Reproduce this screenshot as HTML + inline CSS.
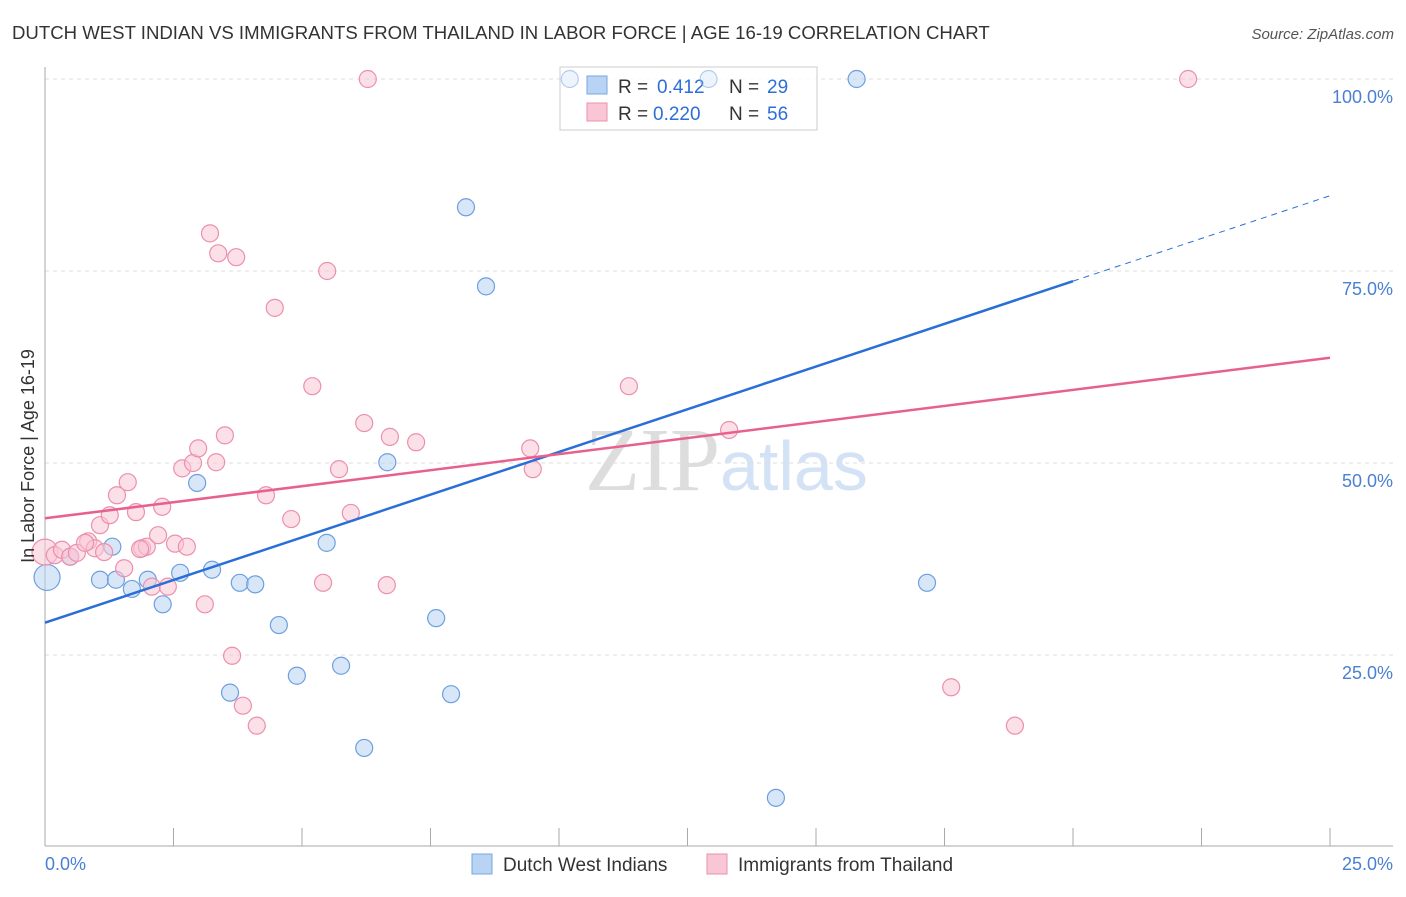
<!DOCTYPE html>
<html><head><meta charset="utf-8"><style>
body{margin:0;background:#fff;font-family:"Liberation Sans",sans-serif;}
</style></head><body>
<svg width="1406" height="892" id="chart" font-family="Liberation Sans, sans-serif">
<text x="12" y="39" font-size="18.6" fill="#333">DUTCH WEST INDIAN VS IMMIGRANTS FROM THAILAND IN LABOR FORCE | AGE 16-19 CORRELATION CHART</text>
<text x="1394" y="39" font-size="15" fill="#555" font-style="italic" text-anchor="end">Source: ZipAtlas.com</text>
<text x="720" y="490" font-size="90" fill="#ddd" text-anchor="end" font-family="Liberation Serif, serif">ZIP</text>
<text x="720" y="490" font-size="70" fill="#d3e2f5">atlas</text>
<g id="grid"></g>
<g id="axes"></g>
<g id="marks"></g>
<text transform="translate(34,456) rotate(-90)" font-size="18" fill="#333" text-anchor="middle">In Labor Force | Age 16-19</text>
<g>
<rect x="560" y="67" width="257" height="63" fill="#fff" fill-opacity="0.85" stroke="#ccc"/>
<rect x="587" y="76" width="20" height="18" fill="#b8d3f3" stroke="#7aa7e0"/>
<text x="618" y="93" font-size="19" fill="#333">R =</text>
<text x="657" y="93" font-size="19" fill="#2d6fd6">0.412</text>
<text x="729" y="93" font-size="19" fill="#333">N =</text>
<text x="767" y="93" font-size="19" fill="#2d6fd6">29</text>
<rect x="587" y="103" width="20" height="18" fill="#f9c6d6" stroke="#ee8fae"/>
<text x="618" y="120" font-size="19" fill="#333">R =</text>
<text x="653" y="120" font-size="19" fill="#2d6fd6">0.220</text>
<text x="729" y="120" font-size="19" fill="#333">N =</text>
<text x="767" y="120" font-size="19" fill="#2d6fd6">56</text>
</g>
<g>
<rect x="472" y="854" width="20" height="20" fill="#b8d3f3" stroke="#7aa7e0"/>
<text x="503" y="871" font-size="19" fill="#333">Dutch West Indians</text>
<rect x="707" y="854" width="20" height="20" fill="#f9c6d6" stroke="#ee8fae"/>
<text x="738" y="871" font-size="19" fill="#333">Immigrants from Thailand</text>
</g>
<g id="topmarks"></g>
</svg>
<script>
const blueX=[0.04,0.49,1.07,1.31,1.38,1.69,2.0,2.29,2.63,2.96,3.25,3.79,4.09,4.55,4.9,3.6,5.76,5.48,6.21,6.66,7.61,7.9,8.19,8.58,10.21,12.91,15.79,14.22,17.16];
const blueY=[35.1,37.8,34.8,39.1,34.8,33.6,34.8,31.6,35.7,47.4,36.1,34.4,34.2,28.9,22.3,20.1,23.6,39.6,12.9,50.1,29.8,19.9,83.3,73.0,100,100,100,6.4,34.4];
const pinkX=[0.0,0.19,0.33,0.49,0.62,0.84,0.97,1.15,1.07,1.26,1.4,1.54,1.61,1.77,1.89,1.98,2.08,2.2,2.28,2.39,2.53,2.67,2.76,2.88,2.98,3.11,3.33,3.5,3.21,3.37,3.72,3.64,3.85,4.12,4.3,4.47,4.79,5.2,5.41,5.49,5.72,5.95,6.21,6.28,6.65,6.71,7.22,9.44,9.49,11.36,13.31,17.63,18.87,22.24,0.78,1.85];
const pinkY=[38.4,38.0,38.7,37.8,38.3,39.8,38.9,38.4,41.9,43.2,45.8,36.3,47.5,43.6,38.9,39.1,33.9,40.6,44.3,33.9,39.5,49.3,39.1,50.0,51.9,31.6,50.1,53.6,79.9,77.3,76.8,24.9,18.4,15.8,45.8,70.2,42.7,60.0,34.4,75.0,49.2,43.5,55.2,100,34.1,53.4,52.7,51.9,49.2,60.0,54.3,20.8,15.8,100,39.6,38.8];
const blueLine=[29.2,84.8], blueSolidEnd=20.0;
const pinkLine=[42.8,63.7];
const yTicks=[25,50,75,100], yTickLabels=["25.0%","50.0%","75.0%","100.0%"];
const NS="http://www.w3.org/2000/svg";
const sx=v=>45+v/25*1285, sy=v=>847-v/100*768;
function mk(tag,attrs,parent){const e=document.createElementNS(NS,tag);for(const k in attrs)e.setAttribute(k,attrs[k]);parent.appendChild(e);return e;}
const grid=document.getElementById('grid'),axes=document.getElementById('axes'),marks=document.getElementById('marks'),top2=document.getElementById('topmarks');
yTicks.forEach((t,i)=>{
 const g=mk('line',{x1:45,x2:1393,y1:sy(t),y2:sy(t),stroke:'#ddd','stroke-dasharray':'4,4'},grid);
 
 
 const l=mk('text',{x:1393,y:sy(t)+24,'font-size':18,fill:'#4a7fd4','text-anchor':'end'},axes);
 l.textContent=yTickLabels[i];
 
 
});
const ax=mk('line',{x1:45,x2:1393,y1:846,y2:846,stroke:'#aaa'},axes);


const ay=mk('line',{x1:45,x2:45,y1:67,y2:846,stroke:'#aaa'},axes);


for(let i=1;i<=10;i++){const t=mk('line',{x1:45+i*128.5,x2:45+i*128.5,y1:828,y2:846,stroke:'#aaa'},axes);
 
 }
const x0=mk('text',{x:45,y:870,'font-size':18,fill:'#4a7fd4'},axes);x0.textContent='0.0%';


const x1=mk('text',{x:1393,y:870,'font-size':18,fill:'#4a7fd4','text-anchor':'end'},axes);x1.textContent='25.0%';


function dots(X,Y,fill,stroke,name){X.forEach((x,i)=>{const r=(i===0)?13:8.5;
 const px=sx(x),py=sy(Y[i]);
 const inLegend=px>550&&px<827&&py<140;
 const c=mk('circle',{cx:px,cy:py,r:r,fill:fill,'fill-opacity':inLegend?0.25:0.55,stroke:stroke,'stroke-width':1.2,'stroke-opacity':inLegend?0.5:1},inLegend?top2:marks);
 
 });}
dots(blueX,blueY,'#b8d3f3','#6d9fe0','blue-point');
dots(pinkX,pinkY,'#f9c6d6','#ec8fae','pink-point');
const by=x=>blueLine[0]+(blueLine[1]-blueLine[0])*x/25;
const bl=mk('line',{x1:sx(0),y1:sy(by(0)),x2:sx(blueSolidEnd),y2:sy(by(blueSolidEnd)),stroke:'#2a6fd6','stroke-width':2.5},marks);


const bd=mk('line',{x1:sx(blueSolidEnd),y1:sy(by(blueSolidEnd)),x2:sx(25),y2:sy(by(25)),stroke:'#2a6fd6','stroke-width':1,'stroke-dasharray':'6,5'},marks);


const pl=mk('line',{x1:sx(0),y1:sy(pinkLine[0]),x2:sx(25),y2:sy(pinkLine[1]),stroke:'#e8608e','stroke-width':2.5},marks);


</script>
</body></html>
